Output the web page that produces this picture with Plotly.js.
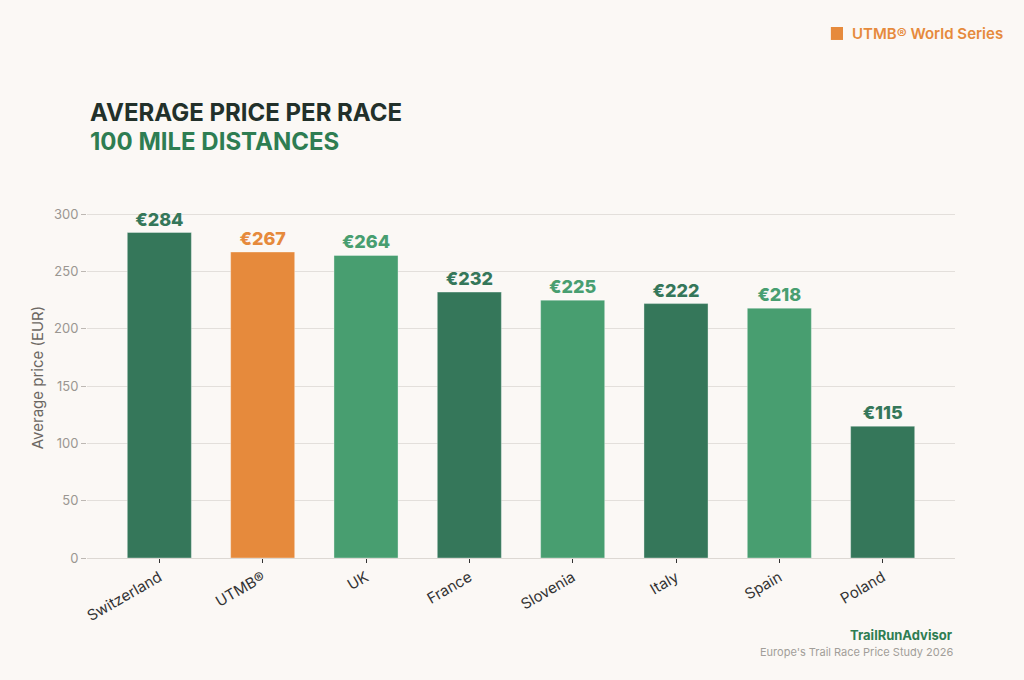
<!DOCTYPE html>
<html>
<head>
<meta charset="utf-8">
<script src="https://cdn.plot.ly/plotly-3.0.1.min.js"></script>
<style>
html,body{margin:0;padding:0;background:#FBF8F5;}
#chart{width:1024px;height:680px;}
</style>
</head>
<body>
<div id="chart"></div>
<script>
const categories = ["Switzerland", "UTMB®", "UK", "France", "Slovenia", "Italy", "Spain", "Poland"];
const prices = [284, 267, 264, 232, 225, 222, 218, 115];
const barColors = ["#35775A", "#E68A3C", "#489E70", "#35775A", "#489E70", "#35775A", "#489E70", "#35775A"];
const yTicks = [0, 50, 100, 150, 200, 250, 300];

const FONT = "Inter, 'Open Sans', sans-serif";

const trace = {
  type: "bar",
  x: categories,
  y: prices,
  marker: {color: barColors, line: {color: "rgba(255,255,255,0.35)", width: 1}},
  width: 0.62,
  text: prices.map(v => "€" + v),
  textposition: "outside",
  textfont: {family: FONT, size: 18, color: barColors, weight: 800},
  cliponaxis: false,
  hoverinfo: "skip"
};

const layout = {
  width: 1024, height: 680,
  paper_bgcolor: "#FBF8F5",
  plot_bgcolor: "#FBF8F5",
  margin: {l: 87, r: 69, t: 197, b: 122},
  showlegend: false,
  font: {family: FONT},
  xaxis: {
    range: [-0.7, 7.7],
    tickangle: -30,
    tickfont: {family: FONT, size: 15, color: "#333333"},
    ticks: "outside", ticklen: 4, tickcolor: "#333333",
    showgrid: false, showline: true, linecolor: "#DDD8D3", linewidth: 1,
    zeroline: false, fixedrange: true
  },
  yaxis: {
    range: [0, 315],
    tickvals: yTicks,
    tickfont: {family: FONT, size: 13, color: "#9A9691"},
    ticks: "outside", ticklen: 5, tickcolor: "#BDB8B3",
    showgrid: true, gridcolor: "#E3DFDB", gridwidth: 1,
    zeroline: true, zerolinecolor: "#DDD8D3",
    title: {text: "Average price (EUR)", font: {family: FONT, size: 15, color: "#6B6762"}, standoff: 6},
    fixedrange: true
  },
  shapes: [
    {type: "rect", xref: "paper", yref: "paper", x0: 0.857, x1: 0.871, y0: 1.435, y1: 1.471,
     fillcolor: "#E68A3C", line: {width: 0}}
  ],
  annotations: [
    {xref: "paper", yref: "paper", x: 0.001, y: 1.235, xanchor: "left", yanchor: "middle",
     text: "<b>AVERAGE PRICE PER RACE</b>", showarrow: false,
     font: {family: FONT, size: 24, color: "#22302A"}},
    {xref: "paper", yref: "paper", x: 0.001, y: 1.155, xanchor: "left", yanchor: "middle",
     text: "<b>100 MILE DISTANCES</b>", showarrow: false,
     font: {family: FONT, size: 24, color: "#2E7D52"}},
    {xref: "paper", yref: "paper", x: 0.879, y: 1.454, xanchor: "left", yanchor: "middle",
     text: "UTMB® World Series", showarrow: false,
     font: {family: FONT, size: 15, color: "#E68A3C", weight: 600}},
    {xref: "paper", yref: "paper", x: 1.0, y: -0.214, xanchor: "right", yanchor: "middle",
     text: "<b>TrailRunAdvisor</b>", showarrow: false,
     font: {family: FONT, size: 13, color: "#2E7D52"}},
    {xref: "paper", yref: "paper", x: 1.0, y: -0.26, xanchor: "right", yanchor: "middle",
     text: "Europe's Trail Race Price Study 2026", showarrow: false,
     font: {family: FONT, size: 11, color: "#A29E99"}}
  ]
};

Plotly.newPlot("chart", [trace], layout, {displayModeBar: false, staticPlot: true});
</script>
</body>
</html>
